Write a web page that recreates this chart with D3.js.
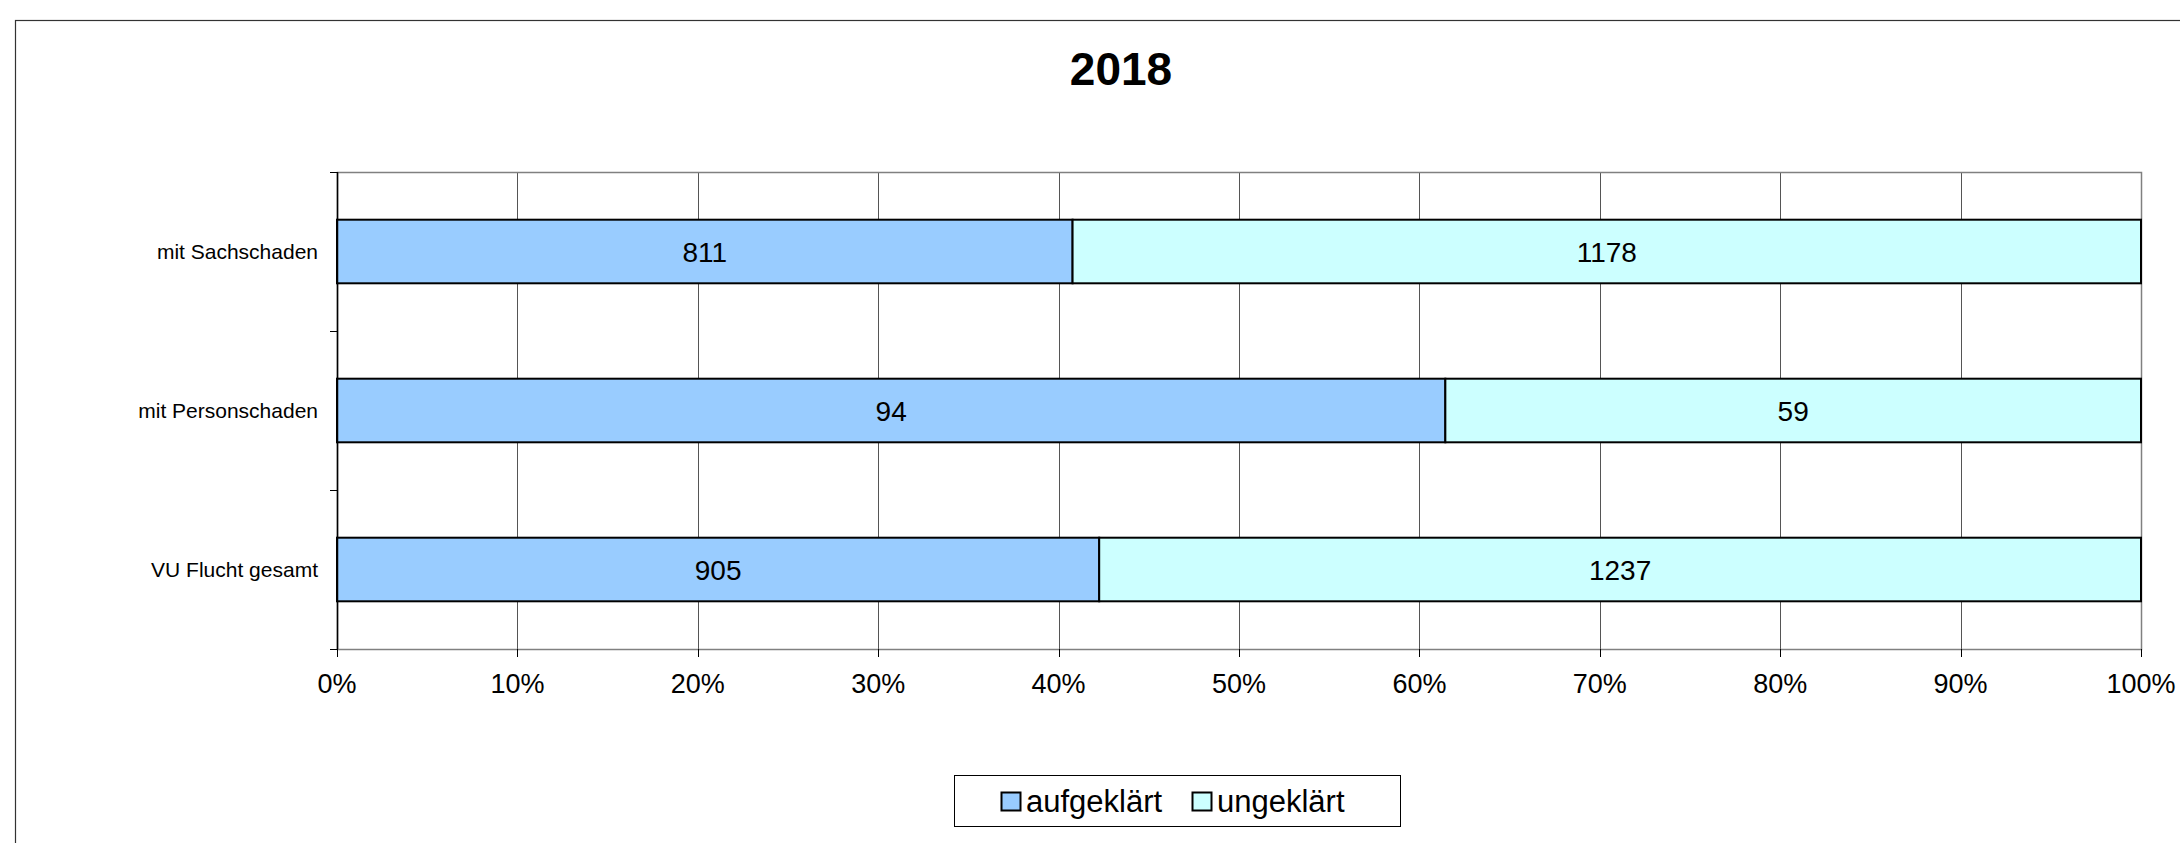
<!DOCTYPE html>
<html>
<head>
<meta charset="utf-8">
<script src="https://cdn.jsdelivr.net/npm/d3@7"></script>
<style>
  html, body { margin: 0; padding: 0; background: #fff; }
  svg { display: block; font-family: 'Liberation Sans', Arial, sans-serif; }
</style>
</head>
<body>
<div id="chart"></div>
<script>
// data
let categories = ['mit Sachschaden', 'mit Personschaden', 'VU Flucht gesamt']
let seriesNames = ['aufgeklärt', 'ungeklärt']
let aufgeklaert = [811, 94, 905]
let ungeklaert = [1178, 59, 1237]
let xTicks = [0, 0.1, 0.2, 0.3, 0.4, 0.5, 0.6, 0.7, 0.8, 0.9, 1]
let colors = ['#99ccff', '#ccffff']
let title = '2018'

let W = 2180
let H = 843
let plot = { left: 337, right: 2141, top: 172, bottom: 649 }

let svg = d3.select('#chart').append('svg')
  .attr('width', W)
  .attr('height', H)

// outer frame (runs off right and bottom edge)
svg.append('rect')
  .attr('x', 15.5).attr('y', 20.5)
  .attr('width', W + 20).attr('height', H + 20)
  .attr('fill', '#fff')
  .attr('stroke', '#333')
  .attr('stroke-width', 1.2)

svg.append('text')
  .attr('x', 1121).attr('y', 85)
  .attr('text-anchor', 'middle')
  .attr('font-size', 46)
  .attr('font-weight', 'bold')
  .text(title)

let x = d3.scaleLinear().domain([0, 1]).range([plot.left, plot.right])
let y = d3.scaleBand().domain(categories)
  .range([plot.top, plot.bottom])
  .paddingInner(0.6).paddingOuter(0.3)

// stack as shares
let rows = categories.map((c, i) => {
  let total = aufgeklaert[i] + ungeklaert[i]
  return { cat: c, aufgeklaert: aufgeklaert[i] / total, ungeklaert: ungeklaert[i] / total,
    raw: [aufgeklaert[i], ungeklaert[i]] }
})
let stack = d3.stack().keys(['aufgeklaert', 'ungeklaert'])(rows)

// grid lines
svg.append('g').selectAll('line')
  .data(xTicks.slice(1, -1))
  .enter().append('line')
  .attr('x1', (d) => Math.round(x(d)) + 0.5)
  .attr('x2', (d) => Math.round(x(d)) + 0.5)
  .attr('y1', plot.top).attr('y2', plot.bottom)
  .attr('stroke', '#555')

// plot border
svg.append('rect')
  .attr('x', plot.left + 0.5).attr('y', plot.top + 0.5)
  .attr('width', plot.right - plot.left).attr('height', plot.bottom - plot.top)
  .attr('fill', 'none')
  .attr('stroke', '#808080')
  .attr('stroke-width', 1.5)

// bars
let groups = svg.append('g').selectAll('g')
  .data(stack)
  .enter().append('g')
  .attr('fill', (d, i) => colors[i])

groups.selectAll('rect')
  .data((d) => d)
  .enter().append('rect')
  .attr('x', (d) => x(d[0]))
  .attr('y', (d) => y(d.data.cat))
  .attr('width', (d) => x(d[1]) - x(d[0]))
  .attr('height', y.bandwidth())
  .attr('stroke', '#000')
  .attr('stroke-width', 2)

// value labels
stack.forEach((s, si) => {
  svg.append('g').selectAll('text')
    .data(s)
    .enter().append('text')
    .attr('x', (d) => (x(d[0]) + x(d[1])) / 2)
    .attr('y', (d) => y(d.data.cat) + y.bandwidth() / 2)
    .attr('dy', '0.36em')
    .attr('text-anchor', 'middle')
    .attr('font-size', 28)
    .text((d) => d.data.raw[si])
})

// y axis
svg.append('line')
  .attr('x1', plot.left + 0.5).attr('x2', plot.left + 0.5)
  .attr('y1', plot.top).attr('y2', plot.bottom)
  .attr('stroke', '#000').attr('stroke-width', 1.5)

let yBounds = d3.range(categories.length + 1).map((i) => plot.top + i * y.step())
svg.append('g').selectAll('line')
  .data(yBounds)
  .enter().append('line')
  .attr('x1', plot.left - 7).attr('x2', plot.left)
  .attr('y1', (d) => Math.round(d) + 0.5).attr('y2', (d) => Math.round(d) + 0.5)
  .attr('stroke', '#000')

svg.append('g').selectAll('text')
  .data(categories)
  .enter().append('text')
  .attr('x', 318)
  .attr('y', (d) => y(d) + y.bandwidth() / 2)
  .attr('dy', '0.36em')
  .attr('text-anchor', 'end')
  .attr('font-size', 21)
  .text((d) => d)

// x axis
svg.append('g').selectAll('line')
  .data(xTicks)
  .enter().append('line')
  .attr('x1', (d) => Math.round(x(d)) + 0.5).attr('x2', (d) => Math.round(x(d)) + 0.5)
  .attr('y1', plot.bottom).attr('y2', plot.bottom + 8)
  .attr('stroke', '#000')

let fmt = d3.format('.0%')
svg.append('g').selectAll('text')
  .data(xTicks)
  .enter().append('text')
  .attr('x', (d) => x(d))
  .attr('y', 693)
  .attr('text-anchor', 'middle')
  .attr('font-size', 27)
  .text((d) => fmt(d))

// legend
let legend = svg.append('g')
legend.append('rect')
  .attr('x', 954.5).attr('y', 775.5)
  .attr('width', 446).attr('height', 51)
  .attr('fill', '#fff')
  .attr('stroke', '#000')

let legX = [1001, 1192]
seriesNames.forEach((name, i) => {
  legend.append('rect')
    .attr('x', legX[i] + 0.5).attr('y', 792.5)
    .attr('width', 19).attr('height', 18)
    .attr('fill', colors[i])
    .attr('stroke', '#000')
    .attr('stroke-width', 2)
  legend.append('text')
    .attr('x', legX[i] + 25)
    .attr('y', 812)
    .attr('font-size', 31)
    .text(name)
})
</script>
</body>
</html>
